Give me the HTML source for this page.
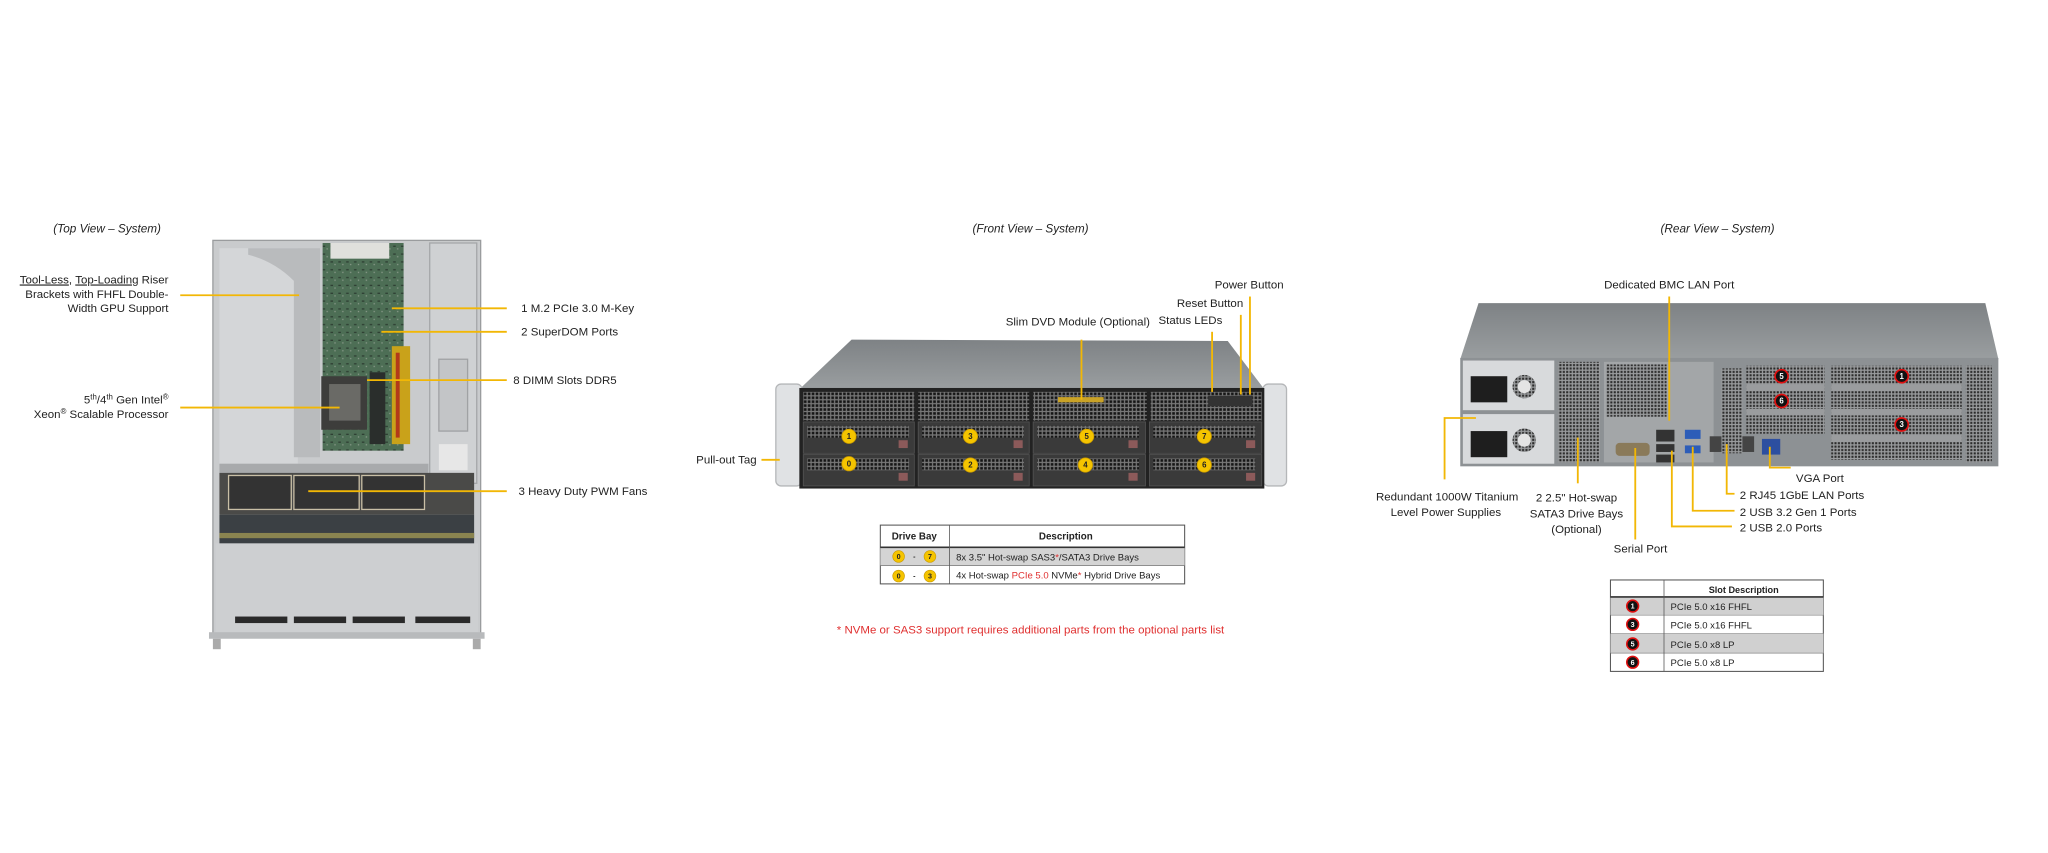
<!DOCTYPE html>
<html><head><meta charset="utf-8"><style>
html,body{margin:0;padding:0;background:#fff;width:2048px;height:853px;overflow:hidden}
svg{display:block}
text{font-family:"Liberation Sans",sans-serif;fill:#222}
.it{font-style:italic}
</style></head><body>
<svg width="2048" height="853" viewBox="0 0 1568 653" xmlns="http://www.w3.org/2000/svg">
<defs>
<pattern id="vent" width="3" height="3" patternUnits="userSpaceOnUse"><rect width="3" height="3" fill="#777"/><rect x="0.5" y="0.5" width="2" height="2" fill="#151515"/></pattern>
<pattern id="ventr" width="2.6" height="2.6" patternUnits="userSpaceOnUse"><rect width="2.6" height="2.6" fill="#9a9c9e"/><rect x="0.5" y="0.5" width="1.6" height="1.6" fill="#2a2a2a"/></pattern>
<pattern id="pcb" width="6" height="6" patternUnits="userSpaceOnUse"><rect width="6" height="6" fill="#4d6e55"/><rect x="1" y="2" width="2" height="1" fill="#2e3f33"/><rect x="4" y="4" width="1" height="1" fill="#8a9a8a"/></pattern>
<linearGradient id="topg" x1="0" y1="0" x2="0" y2="1"><stop offset="0" stop-color="#7e8285"/><stop offset="1" stop-color="#9a9ea0"/></linearGradient>
</defs>

<!-- ===== TOP VIEW ===== -->
<text x="82" y="178" font-size="9" text-anchor="middle" class="it">(Top View – System)</text>
<rect x="163" y="184" width="205" height="303" fill="#c9cbcd" stroke="#9a9c9e"/>
<rect x="168" y="190" width="60" height="165" fill="#d4d6d8"/>
<path d="M190 190 L245 190 L245 350 L225 350 L225 215 Q210 200 190 195 Z" fill="#b9bbbd"/>
<rect x="247" y="186" width="62" height="159" fill="url(#pcb)"/>
<rect x="253" y="186" width="45" height="12" fill="#e0e0dc"/>
<rect x="246" y="288" width="35" height="41" fill="#3d3d3b"/>
<rect x="252" y="294" width="24" height="28" fill="#6a6a66"/>
<rect x="283" y="285" width="12" height="55" fill="#2a2e2c"/>
<rect x="300" y="265" width="14" height="75" fill="#c9a21a"/>
<rect x="303" y="270" width="3" height="65" fill="#b23a1a"/>
<rect x="329" y="186" width="36" height="184" fill="#cfd1d3" stroke="#a5a7a9"/>
<rect x="336" y="275" width="22" height="55" fill="#c3c5c7" stroke="#a0a2a4"/>
<rect x="336" y="340" width="22" height="20" fill="#e7e7e7"/>
<rect x="168" y="355" width="160" height="7" fill="#a8aaac"/>
<rect x="168" y="362" width="195" height="32" fill="#4a4a48"/>
<rect x="175" y="364" width="48" height="26" fill="#333" stroke="#c9bfa6"/>
<rect x="225" y="364" width="50" height="26" fill="#333" stroke="#c9bfa6"/>
<rect x="277" y="364" width="48" height="26" fill="#333" stroke="#c9bfa6"/>
<rect x="168" y="394" width="195" height="22" fill="#3b4044"/>
<rect x="168" y="408" width="195" height="4" fill="#8a8450"/>
<rect x="165" y="416" width="201" height="68" fill="#cdcfd1"/>
<g fill="#2a2a2a"><rect x="180" y="472" width="40" height="5"/><rect x="225" y="472" width="40" height="5"/><rect x="270" y="472" width="40" height="5"/><rect x="318" y="472" width="42" height="5"/></g>
<rect x="160" y="484" width="211" height="5" fill="#b8babc"/>
<rect x="163" y="489" width="6" height="8" fill="#aaa"/><rect x="362" y="489" width="6" height="8" fill="#aaa"/>
<!-- top view labels -->
<g font-size="8.8" text-anchor="end">
<text x="129" y="217"><tspan text-decoration="underline">Tool-Less</tspan>, <tspan text-decoration="underline">Top-Loading</tspan> Riser</text>
<text x="129" y="228">Brackets with FHFL Double-</text>
<text x="129" y="239">Width GPU Support</text>
<text x="129" y="309">5<tspan font-size="6" dy="-3">th</tspan><tspan dy="3">/4</tspan><tspan font-size="6" dy="-3">th</tspan><tspan dy="3"> Gen Intel</tspan><tspan font-size="6" dy="-3">®</tspan></text>
<text x="129" y="320">Xeon<tspan font-size="6" dy="-3">®</tspan><tspan dy="3"> Scalable Processor</tspan></text>
</g>
<g stroke="#f2b705" stroke-width="1.4">
<line x1="138" y1="226" x2="229" y2="226"/>
<line x1="138" y1="312" x2="260" y2="312"/>
<line x1="300" y1="236" x2="388" y2="236"/>
<line x1="292" y1="254" x2="388" y2="254"/>
<line x1="281" y1="291" x2="388" y2="291"/>
<line x1="236" y1="376" x2="388" y2="376"/>
</g>
<g font-size="8.8">
<text x="399" y="239">1 M.2 PCIe 3.0 M-Key</text>
<text x="399" y="257">2 SuperDOM Ports</text>
<text x="393" y="294">8 DIMM Slots DDR5</text>
<text x="397" y="379">3 Heavy Duty PWM Fans</text>
</g>

<!-- ===== FRONT VIEW ===== -->
<text x="789" y="178" font-size="9" text-anchor="middle" class="it">(Front View – System)</text>
<polygon points="612,298 652,260 940,261 968,298" fill="url(#topg)"/>
<rect x="594" y="294" width="20" height="78" rx="4" fill="#e0e2e4" stroke="#b5b7b9"/>
<rect x="967" y="294" width="18" height="78" rx="4" fill="#e0e2e4" stroke="#b5b7b9"/>
<rect x="612" y="297" width="356" height="77" fill="#222"/>
<rect x="615" y="300" width="85" height="22" fill="url(#vent)"/>
<rect x="703" y="300" width="85" height="22" fill="url(#vent)"/>
<rect x="791" y="300" width="87" height="22" fill="url(#vent)"/>
<rect x="810" y="304" width="35" height="4" fill="#c9a227"/>
<rect x="881" y="300" width="85" height="22" fill="url(#vent)"/>
<rect x="925" y="303" width="34" height="8" fill="#333"/>
<g fill="#3a3a3a" stroke="#555" stroke-width="0.6">
<rect x="615" y="323" width="85" height="24"/><rect x="703" y="323" width="85" height="24"/><rect x="791" y="323" width="86" height="24"/><rect x="880" y="323" width="86" height="24"/>
<rect x="615" y="348" width="85" height="24"/><rect x="703" y="348" width="85" height="24"/><rect x="791" y="348" width="86" height="24"/><rect x="880" y="348" width="86" height="24"/>
</g>
<g fill="url(#vent)">
<rect x="618" y="326" width="78" height="9"/><rect x="706" y="326" width="78" height="9"/><rect x="794" y="326" width="78" height="9"/><rect x="883" y="326" width="78" height="9"/>
<rect x="618" y="351" width="78" height="9"/><rect x="706" y="351" width="78" height="9"/><rect x="794" y="351" width="78" height="9"/><rect x="883" y="351" width="78" height="9"/>
</g>
<g fill="#8c5a5a"><rect x="688" y="337" width="7" height="6"/><rect x="776" y="337" width="7" height="6"/><rect x="864" y="337" width="7" height="6"/><rect x="954" y="337" width="7" height="6"/>
<rect x="688" y="362" width="7" height="6"/><rect x="776" y="362" width="7" height="6"/><rect x="864" y="362" width="7" height="6"/><rect x="954" y="362" width="7" height="6"/></g>
<g fill="#f5c400" stroke="#c99a00" stroke-width="0.6">
<circle cx="650" cy="334" r="5.5"/><circle cx="743" cy="334" r="5.5"/><circle cx="832" cy="334" r="5.5"/><circle cx="922" cy="334" r="5.5"/>
<circle cx="650" cy="355" r="5.5"/><circle cx="743" cy="356" r="5.5"/><circle cx="831" cy="356" r="5.5"/><circle cx="922" cy="356" r="5.5"/>
</g>
<g font-size="6" font-weight="bold" text-anchor="middle">
<text x="650" y="336">1</text><text x="743" y="336">3</text><text x="832" y="336">5</text><text x="922" y="336">7</text>
<text x="650" y="357">0</text><text x="743" y="358">2</text><text x="831" y="358">4</text><text x="922" y="358">6</text>
</g>
<g stroke="#f2b705" stroke-width="1.4">
<line x1="828" y1="260" x2="828" y2="306"/>
<line x1="928" y1="254" x2="928" y2="300"/>
<line x1="950" y1="241" x2="950" y2="302"/>
<line x1="957" y1="227" x2="957" y2="302"/>
<line x1="583" y1="352" x2="597" y2="352"/>
</g>
<g font-size="8.8">
<text x="930" y="221">Power Button</text>
<text x="901" y="235">Reset Button</text>
<text x="887" y="248">Status LEDs</text>
<text x="770" y="249">Slim DVD Module (Optional)</text>
<text x="533" y="355">Pull-out Tag</text>
</g>
<!-- drive bay table -->
<rect x="674" y="402" width="233" height="45" fill="#fff" stroke="#555" stroke-width="0.8"/>
<rect x="674" y="419" width="233" height="14" fill="#d4d4d4"/>
<line x1="674" y1="419" x2="907" y2="419" stroke="#333" stroke-width="1.2"/>
<line x1="674" y1="433" x2="907" y2="433" stroke="#777" stroke-width="0.6"/>
<line x1="727" y1="402" x2="727" y2="447" stroke="#555" stroke-width="0.6"/>
<text x="700" y="413" font-size="7.5" font-weight="bold" text-anchor="middle">Drive Bay</text>
<text x="816" y="413" font-size="7.5" font-weight="bold" text-anchor="middle">Description</text>
<g fill="#f5c400" stroke="#c99a00" stroke-width="0.5"><circle cx="688" cy="426" r="4.5"/><circle cx="712" cy="426" r="4.5"/><circle cx="688" cy="441" r="4.5"/><circle cx="712" cy="441" r="4.5"/></g>
<g font-size="5.5" font-weight="bold" text-anchor="middle"><text x="688" y="428">0</text><text x="712" y="428">7</text><text x="688" y="443">0</text><text x="712" y="443">3</text><text x="700" y="428">-</text><text x="700" y="443">-</text></g>
<text x="732" y="429" font-size="7.3">8x 3.5" Hot-swap SAS3<tspan style="fill:#e03030">*</tspan>/SATA3 Drive Bays</text>
<text x="732" y="443" font-size="7.3">4x Hot-swap <tspan style="fill:#e03030">PCIe 5.0</tspan> NVMe<tspan style="fill:#e03030">*</tspan> Hybrid Drive Bays</text>
<text x="789" y="485" font-size="8.8" text-anchor="middle" style="fill:#e03030">* NVMe or SAS3 support requires additional parts from the optional parts list</text>

<!-- ===== REAR VIEW ===== -->
<text x="1315" y="178" font-size="9" text-anchor="middle" class="it">(Rear View – System)</text>
<polygon points="1132,232 1520,232 1530,275 1118,275" fill="url(#topg)"/>
<rect x="1118" y="274" width="412" height="83" fill="#8d9194"/>
<rect x="1120" y="276" width="70" height="38" fill="#d8dadc"/>
<rect x="1120" y="317" width="70" height="38" fill="#d8dadc"/>
<rect x="1126" y="288" width="28" height="20" fill="#1e1e1e"/>
<rect x="1126" y="330" width="28" height="20" fill="#1e1e1e"/>
<circle cx="1167" cy="296" r="9" fill="url(#ventr)"/><circle cx="1167" cy="296" r="5" fill="#e4e4e4"/>
<circle cx="1167" cy="337" r="9" fill="url(#ventr)"/><circle cx="1167" cy="337" r="5" fill="#e4e4e4"/>
<rect x="1193" y="277" width="32" height="77" fill="url(#ventr)"/>
<rect x="1228" y="277" width="84" height="77" fill="#a3a6a8"/>
<rect x="1230" y="279" width="46" height="40" fill="url(#ventr)"/>
<rect x="1268" y="329" width="14" height="9" fill="#333"/>
<rect x="1268" y="340" width="14" height="6" fill="#333"/>
<rect x="1268" y="348" width="14" height="6" fill="#333"/>
<rect x="1290" y="329" width="12" height="7" fill="#2d5db8"/>
<rect x="1290" y="341" width="12" height="6" fill="#2d5db8"/>
<rect x="1237" y="339" width="26" height="10" rx="3" fill="#8a7a5a"/>
<rect x="1309" y="334" width="16" height="12" fill="#444"/>
<rect x="1327" y="334" width="16" height="12" fill="#444"/>
<rect x="1349" y="336" width="14" height="12" fill="#2d4fa0"/>
<rect x="1318" y="282" width="16" height="65" fill="url(#ventr)"/>
<rect x="1337" y="280" width="60" height="52" fill="url(#ventr)"/>
<rect x="1402" y="280" width="100" height="72" fill="url(#ventr)"/>
<g fill="#9a9c9e"><rect x="1337" y="294" width="60" height="5"/><rect x="1337" y="313" width="60" height="5"/><rect x="1402" y="294" width="100" height="5"/><rect x="1402" y="313" width="100" height="5"/><rect x="1402" y="333" width="100" height="5"/></g>
<rect x="1505" y="280" width="20" height="74" fill="url(#ventr)"/>
<g fill="#111" stroke="#e01010" stroke-width="1.3"><circle cx="1364" cy="288" r="5"/><circle cx="1456" cy="288" r="5"/><circle cx="1364" cy="307" r="5"/><circle cx="1456" cy="325" r="5"/></g>
<g font-size="6" font-weight="bold" text-anchor="middle"><text x="1364" y="290" style="fill:#fff">5</text><text x="1456" y="290" style="fill:#fff">1</text><text x="1364" y="309" style="fill:#fff">6</text><text x="1456" y="327" style="fill:#fff">3</text></g>
<g stroke="#f2b705" stroke-width="1.4" fill="none">
<line x1="1278" y1="227" x2="1278" y2="322"/>
<polyline points="1130,320 1106,320 1106,367"/>
<line x1="1208" y1="335" x2="1208" y2="370"/>
<line x1="1252" y1="343" x2="1252" y2="413"/>
<polyline points="1355,342 1355,358 1371,358"/>
<polyline points="1322,340 1322,378 1328,378"/>
<polyline points="1296,342 1296,391 1328,391"/>
<polyline points="1280,345 1280,403 1326,403"/>
</g>
<g font-size="8.8">
<text x="1278" y="221" text-anchor="middle">Dedicated BMC LAN Port</text>
<text x="1108" y="383" text-anchor="middle">Redundant 1000W Titanium</text>
<text x="1107" y="395" text-anchor="middle">Level Power Supplies</text>
<text x="1207" y="384" text-anchor="middle">2 2.5" Hot-swap</text>
<text x="1207" y="396" text-anchor="middle">SATA3 Drive Bays</text>
<text x="1207" y="408" text-anchor="middle">(Optional)</text>
<text x="1256" y="423" text-anchor="middle">Serial Port</text>
<text x="1375" y="369">VGA Port</text>
<text x="1332" y="382">2 RJ45 1GbE LAN Ports</text>
<text x="1332" y="395">2 USB 3.2 Gen 1 Ports</text>
<text x="1332" y="407">2 USB 2.0 Ports</text>
</g>
<!-- slot table -->
<rect x="1233" y="444" width="163" height="70" fill="#fff" stroke="#555" stroke-width="0.8"/>
<rect x="1233" y="457" width="163" height="14" fill="#d0d0d0"/>
<rect x="1233" y="485" width="163" height="15" fill="#d0d0d0"/>
<line x1="1233" y1="457" x2="1396" y2="457" stroke="#333" stroke-width="1.2"/>
<line x1="1233" y1="471" x2="1396" y2="471" stroke="#888" stroke-width="0.5"/>
<line x1="1233" y1="485" x2="1396" y2="485" stroke="#888" stroke-width="0.5"/>
<line x1="1233" y1="500" x2="1396" y2="500" stroke="#888" stroke-width="0.5"/>
<line x1="1274" y1="444" x2="1274" y2="514" stroke="#555" stroke-width="0.6"/>
<text x="1335" y="454" font-size="7" font-weight="bold" text-anchor="middle">Slot Description</text>
<g fill="#111" stroke="#e01010" stroke-width="1.2"><circle cx="1250" cy="464" r="4.5"/><circle cx="1250" cy="478" r="4.5"/><circle cx="1250" cy="493" r="4.5"/><circle cx="1250" cy="507" r="4.5"/></g>
<g font-size="5.5" font-weight="bold" text-anchor="middle"><text x="1250" y="466" style="fill:#fff">1</text><text x="1250" y="480" style="fill:#fff">3</text><text x="1250" y="495" style="fill:#fff">5</text><text x="1250" y="509" style="fill:#fff">6</text></g>
<g font-size="7.3">
<text x="1279" y="467">PCIe 5.0 x16 FHFL</text>
<text x="1279" y="481">PCIe 5.0 x16 FHFL</text>
<text x="1279" y="496">PCIe 5.0 x8 LP</text>
<text x="1279" y="510">PCIe 5.0 x8 LP</text>
</g>
</svg>
</body></html>
